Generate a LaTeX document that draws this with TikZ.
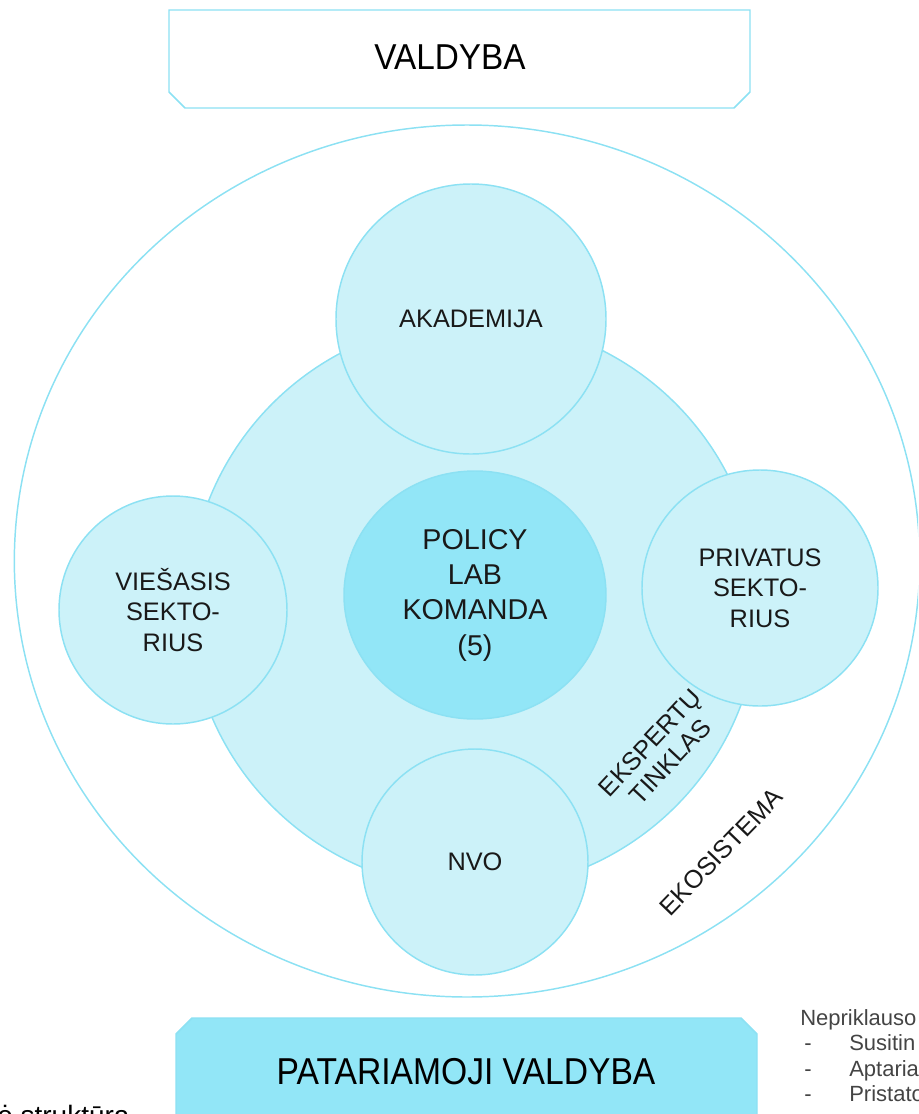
\documentclass[tikz,border=0pt]{standalone}
\usepackage{fontspec}
\setmainfont{Liberation Sans}
\usetikzlibrary{shapes.geometric}
\definecolor{lineblue}{HTML}{8CE1F3}
\definecolor{paleblue}{HTML}{CCF2F9}
\definecolor{midblue}{HTML}{92E6F7}
\definecolor{notegray}{HTML}{444444}
\tikzset{%
  ring/.style={draw=lineblue,line width=1.1pt},
  sector/.style={ring,shape=circle,fill=paleblue,align=center,inner sep=0,
    text=black!90,font=\fontsize{19}{23}\selectfont},
  sidelabel/.style={align=center,text=black!90,font=\fontsize{19}{21}\selectfont},
  boardbox/.style={draw=lineblue,line width=1.1pt},
  note/.style={anchor=base west,text=notegray,inner sep=0,font=\fontsize{16.5}{18}\selectfont}
}

\begin{document}
\begin{tikzpicture}[x=0.75pt,y=-0.75pt]
  \useasboundingbox (0,0) rectangle (918,1114);
  \clip (0,0) rectangle (918,1114);
  % valdyba
  \draw[boardbox,fill=white] (169,10) -- (750,10) -- (750,92) -- (734,108) -- (185,108) -- (169,92) -- cycle;
  \node[font=\fontsize{25}{30}\selectfont,yscale=1.08] (valdyba) at (450,57) {VALDYBA};
  % ekosistema and experts
  \node[ring,shape=ellipse,minimum width=679pt,minimum height=654pt,inner sep=0] (ekosistema) at (467,561) {};
  \node[ring,shape=circle,fill=paleblue,minimum size=427.5pt,inner sep=0] (tinklas) at (474,605) {};
  \path
    (471,319) node[sector,minimum size=202.5pt] (akademija) {AKADEMIJA}
    (173,610) node[sector,minimum size=171pt] (viesasis) {VIEŠASIS\\SEKTO-\\RIUS}
    (760,588) node[sector,minimum size=177pt] (privatus) {PRIVATUS\\SEKTO-\\RIUS}
    (475,862) node[sector,minimum size=169.5pt] (nvo) {NVO};
  \node[ring,shape=ellipse,fill=midblue,minimum width=196.5pt,minimum height=186pt,inner sep=0,
    align=center,text=black!90,font=\fontsize{21.5}{26.5}\selectfont] (komanda) at (475,595) {POLICY\\LAB\\KOMANDA\\(5)};
  \node[sidelabel,rotate=47] (tinklas_l) at (660,752) {EKSPERTŲ\\TINKLAS};
  \node[sidelabel,rotate=46] (ekosistema_l) at (721,852) {EKOSISTEMA};
  % patariamoji valdyba
  \draw[boardbox,fill=midblue] (176,1034) -- (192,1018) -- (741,1018) -- (757,1034) -- (757,1125) -- (176,1125) -- cycle;
  \node[font=\fontsize{26}{30}\selectfont,xscale=0.97,yscale=1.08] (patariamoji) at (466,1072) {PATARIAMOJI VALDYBA};
  \node[anchor=base west,inner sep=0,font=\fontsize{21}{24}\selectfont] (struktura) at (-3,1125) {ė struktūra};
  % notes
  \node[note] (nepriklauso) at (800,1025) {Nepriklauso};
  \foreach \w [count=\i] in {Susitin,Aptaria,Pristato}{
    \node[note] (dash_\i) at (804,1025+25.5*\i) {-};
    \node[note] (item_\i) at (849,1025+25.5*\i) {\w};
  }
\end{tikzpicture}
\end{document}
